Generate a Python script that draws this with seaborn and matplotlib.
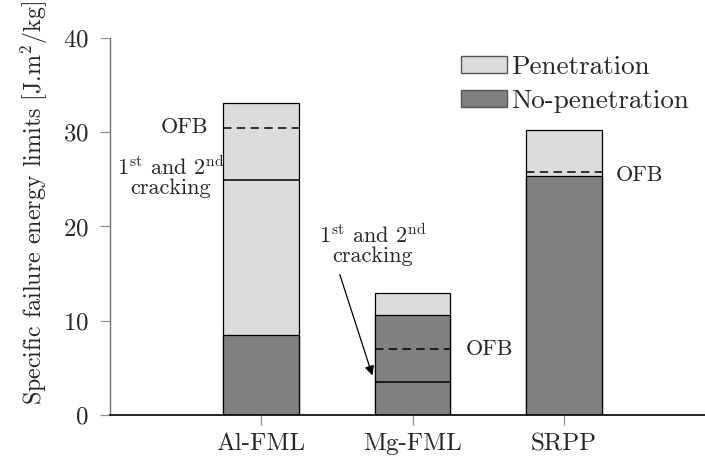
import matplotlib
matplotlib.use("Agg")
import matplotlib.pyplot as plt
import seaborn as sns
import pandas as pd
from matplotlib.patches import Patch

# ---- data ----
materials = ["Al-FML", "Mg-FML", "SRPP"]
penetration_total = [33.1, 12.9, 30.2]      # top of light (penetration) bars
no_penetration = [8.45, 10.6, 25.35]        # top of dark (no-penetration) bars
cracking_level = [24.95, 3.55, None]        # solid line: 1st and 2nd cracking
ofb_level = [30.5, 7.0, 25.75]              # dashed line: OFB
yticks = [0, 10, 20, 30, 40]

sns.set_theme(style="ticks")
plt.rcParams["font.family"] = ["cmr10", "DejaVu Serif"]
plt.rcParams["mathtext.fontset"] = "cm"
plt.rcParams["axes.formatter.use_mathtext"] = True

df = pd.DataFrame({"material": materials,
                   "total": penetration_total,
                   "nopen": no_penetration})

fig = plt.figure(figsize=(7.05, 4.65), dpi=100)
ax = fig.add_axes([109.5 / 705, 50 / 465, 1 - 109.5 / 705, 377 / 465])

light = "#dcdcdc"
dark = "#808080"
sns.barplot(data=df, x="material", y="total", order=materials, color=light,
            width=0.5, edgecolor="black", linewidth=0.9, saturation=1, ax=ax)
sns.barplot(data=df, x="material", y="nopen", order=materials, color=dark,
            width=0.5, edgecolor="black", linewidth=0.9, saturation=1, ax=ax)

bars = ax.patches[:3]
for i, p in enumerate(bars):
    x0, x1 = p.get_x(), p.get_x() + p.get_width()
    if cracking_level[i] is not None:
        ax.hlines(cracking_level[i], x0, x1, colors="black", linewidth=1.1, zorder=5)
    ax.hlines(ofb_level[i], x0, x1, colors="black", linewidth=1.1,
              linestyles=(0, (5.5, 3.5)), zorder=5)

ax.set_xlim(-1, 2.93)
ax.set_ylim(0, 40)
ax.set_yticks(yticks)
ax.set_xlabel("")
ax.set_ylabel(r"Specific failure energy limits [J.m$^2$/kg]", fontsize=17.3)
ax.yaxis.set_label_coords(-0.1, 0.563)

for s in ["top", "right"]:
    ax.spines[s].set_visible(False)
ax.spines["left"].set_color("#707070")
ax.spines["bottom"].set_color("black")
ax.spines["left"].set_linewidth(1.0)
ax.spines["bottom"].set_linewidth(1.2)
ax.tick_params(axis="both", length=7, width=0.9, color="#909090", labelsize=18)
ax.tick_params(axis="y", pad=8)
ax.tick_params(axis="x", pad=6)

sup = r"1$^{\rm st}$ and 2$^{\rm nd}$" + "\ncracking"
ann = dict(fontsize=16, linespacing=0.95)
ax.text(bars[0].get_x() - 0.1, ofb_level[0], "OFB", ha="right", va="center", **ann)
ax.text(-0.6, 25.3, sup, ha="center", va="center", **ann)
ax.text(bars[1].get_x() + bars[1].get_width() + 0.1, ofb_level[1], "OFB",
        ha="left", va="center", **ann)
ax.text(bars[2].get_x() + bars[2].get_width() + 0.09, ofb_level[2] - 0.3, "OFB",
        ha="left", va="center", **ann)
ax.text(0.735, 18.1, sup, ha="center", va="center", **ann)
ax.annotate("", xy=(0.735, 4.2), xytext=(0.52, 14.9),
            arrowprops=dict(arrowstyle="-|>", color="black", lw=0.9,
                            shrinkA=0, shrinkB=0, mutation_scale=14))

handles = [Patch(facecolor=light, edgecolor="#555555", linewidth=1.0),
           Patch(facecolor=dark, edgecolor="#555555", linewidth=1.0)]
fig.legend(handles, ["Penetration", "No-penetration"], loc="upper left",
           bbox_to_anchor=(461 / 705, 1 - 55 / 465), frameon=False, fontsize=19.5,
           handlelength=1.7, handleheight=0.6, handletextpad=0.15,
           labelspacing=0.4, borderpad=0, borderaxespad=0)

fig.savefig("out.png", dpi=100)
